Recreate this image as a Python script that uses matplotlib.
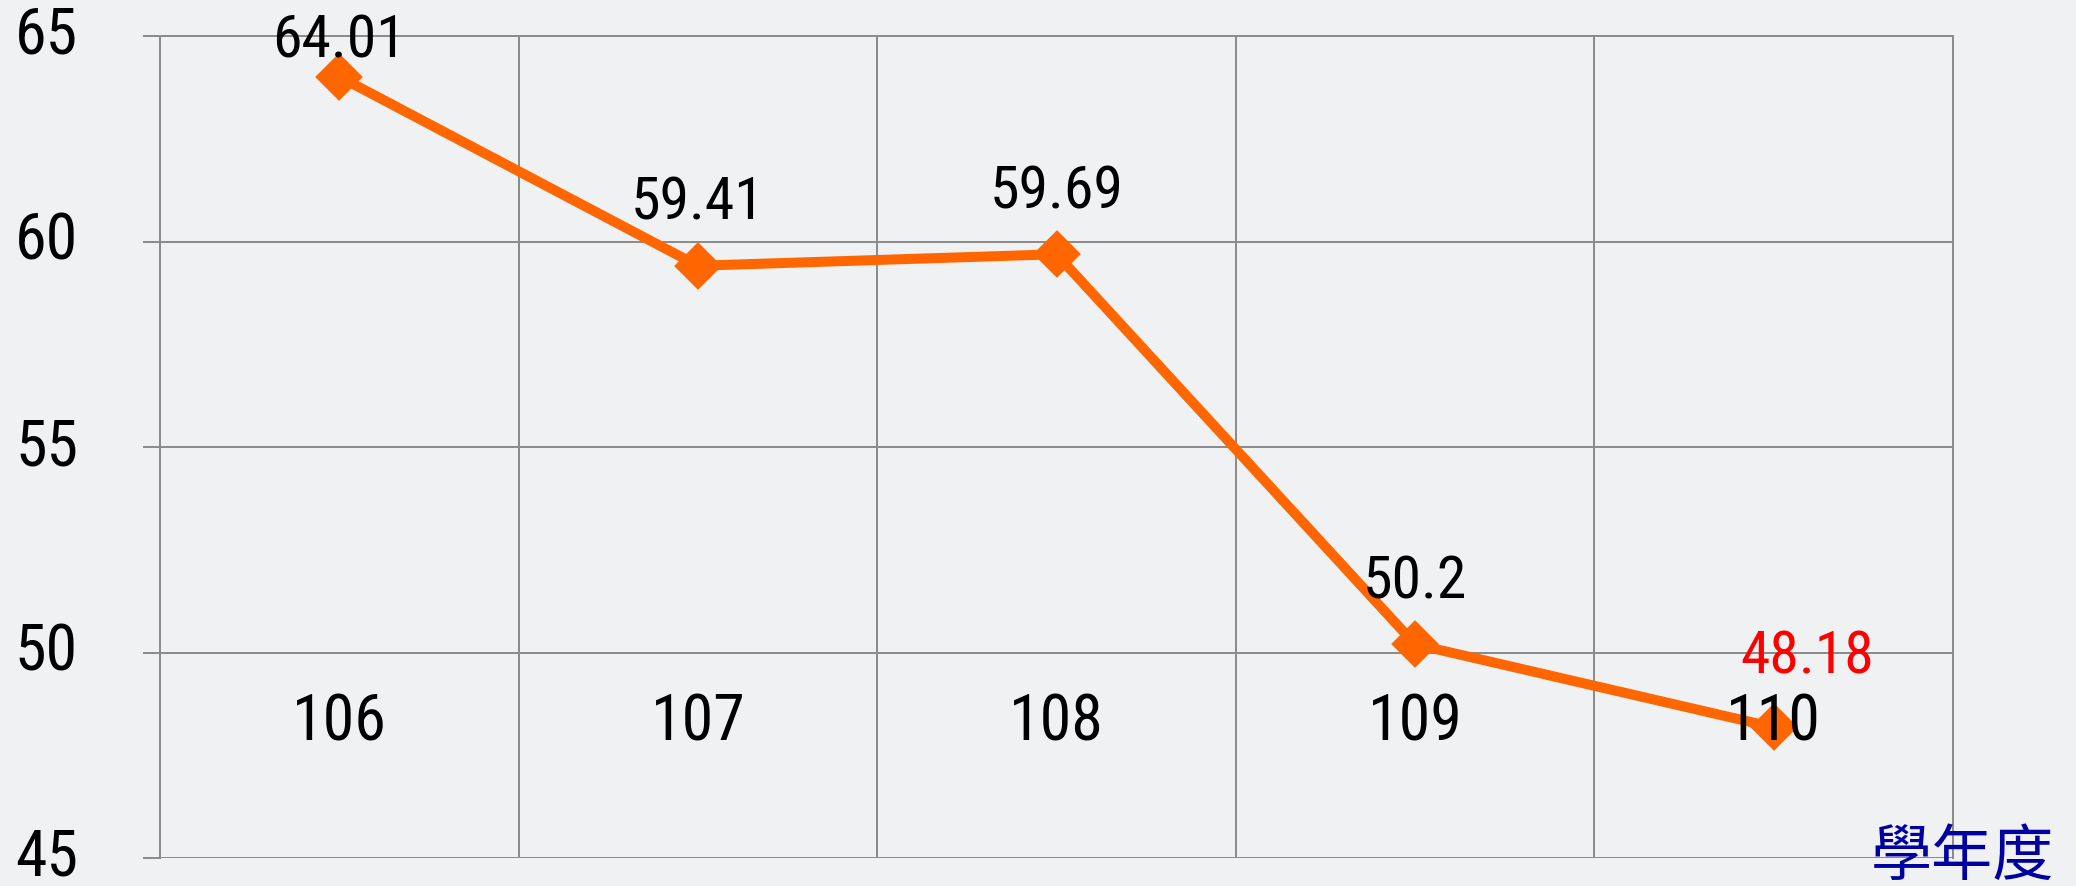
import matplotlib
matplotlib.use("Agg")
import matplotlib.pyplot as plt
from matplotlib import font_manager

# ---- data ----
years = ["106", "107", "108", "109", "110"]
values = [64.01, 59.41, 59.69, 50.2, 48.18]
label_colors = ["black", "black", "black", "black", "red"]
y_ticks = [45, 50, 55, 60, 65]
x_axis_title = "學年度"

DPI = 100
W, H = 2076, 886
px = 72.0 / DPI  # points per pixel

BG = "#F0F1F3"
GRID = "#8C8C8C"
ORANGE = "#FF6600"

installed = {f.name for f in font_manager.fontManager.ttflist}
candidates = ["Roboto Condensed", "Archivo Narrow", "Liberation Sans Narrow",
              "Asap Condensed", "Roboto"]
main_font = next((c for c in candidates if c in installed), "DejaVu Sans")
plt.rcParams["font.family"] = [main_font, "DejaVu Sans"]

fig = plt.figure(figsize=(W / DPI, H / DPI), dpi=DPI, facecolor=BG)
ax = fig.add_axes([160 / W, 1 - 858 / H, (1953 - 160) / W, (858 - 36) / H])
ax.set_facecolor(BG)
ax.set_axisbelow(True)

n = len(years)
xs = list(range(n))
ax.set_xlim(-0.5, n - 0.5)
ax.set_ylim(min(y_ticks), max(y_ticks))

# grid
ax.set_yticks(y_ticks)
ax.set_xticks([i - 0.5 for i in range(n + 1)])
ax.set_xticklabels([])
ax.grid(True, color=GRID, linewidth=2 * px)

for s in ["top", "left", "right"]:
    ax.spines[s].set_color(GRID)
    ax.spines[s].set_linewidth(2 * px)
ax.spines["bottom"].set_position(("data", 50))
ax.spines["bottom"].set_color(GRID)
ax.spines["bottom"].set_linewidth(2 * px)

ax.tick_params(axis="x", direction="out", length=17 * px, width=2 * px, color=GRID)
ax.tick_params(axis="y", direction="out", length=17 * px, width=2 * px, color=GRID,
               pad=65 * px, labelsize=46, labelcolor="black")
for t in ax.get_yticklabels():
    t.set_horizontalalignment("right")
    t.set_verticalalignment("center")

# line
ax.plot(xs, values, color=ORANGE, linewidth=10 * px, marker="D",
        markersize=29 * px, markeredgewidth=4 * px, markeredgecolor=ORANGE,
        markerfacecolor=ORANGE, solid_joinstyle="miter", zorder=3, clip_on=False)

# data labels (offsets in points)
offsets = [(0, 14), (0, 33), (0, 33), (0, 33), (24, 39)]
for i, (v, c) in enumerate(zip(values, label_colors)):
    ax.annotate(f"{v:g}", xy=(i, v), xytext=offsets[i], textcoords="offset points",
                ha="center", va="baseline", fontsize=43, color=c, zorder=6,
                annotation_clip=False)

# category labels inside plot under the 50 line
for i, yr in enumerate(years):
    ax.annotate(yr, xy=(i, 50), xytext=(0, -88 * px), textcoords="offset points",
                ha="center", va="baseline", fontsize=46, color="black", zorder=7)

fig.text(1871 / W, 1 - 858 / H, x_axis_title, ha="left", va="center",
         fontsize=44, color="#0000A0",
         family=["Noto Sans CJK TC", "DejaVu Sans"])

fig.savefig("out.png", dpi=DPI, facecolor=BG)
